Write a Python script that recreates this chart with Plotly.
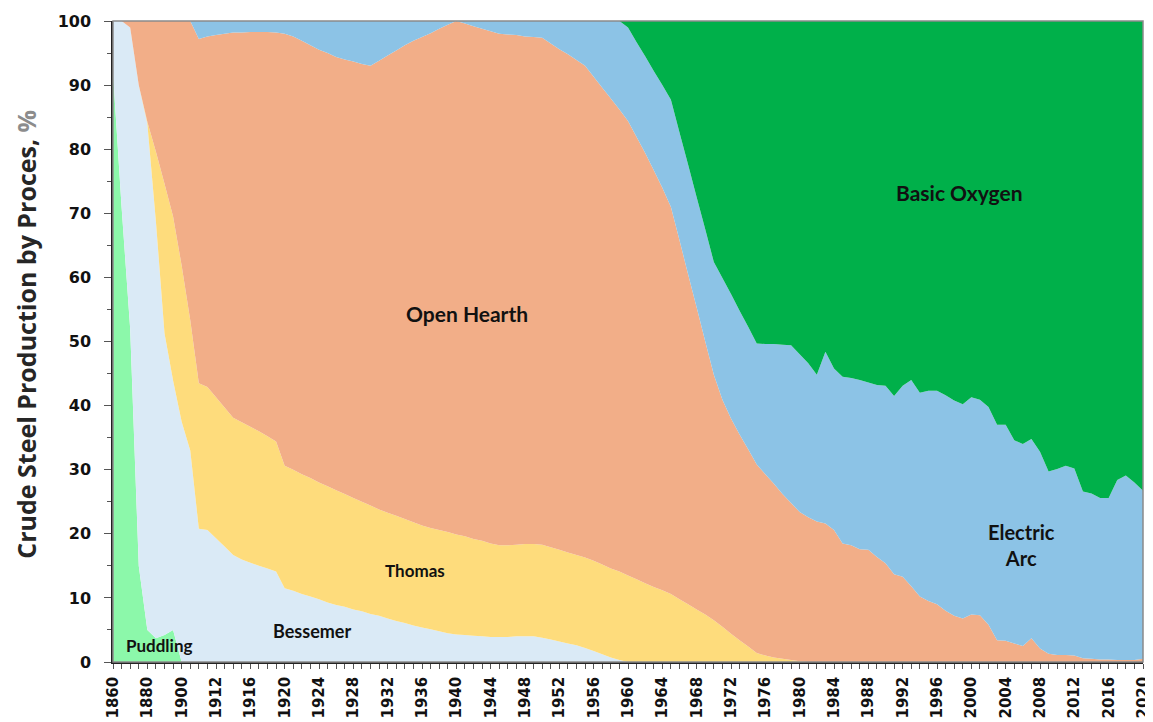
import plotly.graph_objects as go

# === Categories (Excel-style category axis: 5-year steps early, then annual) ===
years = [1860, 1865, 1870, 1875, 1880, 1885, 1890, 1895, 1900, 1905, 1910, 1911] + list(range(1912, 2021))
year_labels = [str(y) for y in years]

# === Shares by process, % ===
puddling = [92, 71, 52, 15, 5, 3.7, 4.2, 5.0, 0, 0, 0, 0] + [0] * 109

bessemer = [8, 29, 47, 75, 79, 65.0, 47.1, 38.9, 37.5, 33.0, 20.8, 20.6,
            19.3, 18.0, 16.7, 16.0, 15.5, 15.0, 14.6, 14.1, 11.5, 11.1,   # 1912-1921
            10.6, 10.2, 9.8, 9.3, 8.9, 8.6, 8.2, 7.9, 7.5, 7.2,           # 1922-1931
            6.8, 6.4, 6.1, 5.7, 5.4, 5.1, 4.8, 4.5, 4.3, 4.2,             # 1932-1941
            4.1, 4.0, 3.9, 3.9, 3.9, 4.0, 4.0, 4.0, 3.8, 3.5,             # 1942-1951
            3.2, 2.9, 2.6, 2.2, 1.7, 1.2, 0.7, 0.3] + [0] * 61            # 1952-1959, 1960-2020

thomas = [0, 0, 0, 0, 0.3, 10.9, 23.3, 25.6, 24.3, 20.3, 22.7, 22.3,
          22.0, 21.7, 21.4, 21.4, 21.2, 21.0, 20.6, 20.3, 19.1, 18.9,     # 1912-1921
          18.7, 18.5, 18.2, 18.1, 17.9, 17.6, 17.4, 17.1, 16.9, 16.6,     # 1922-1931
          16.5, 16.4, 16.2, 16.1, 15.9, 15.8, 15.8, 15.8, 15.6, 15.4,     # 1932-1941
          15.1, 14.9, 14.6, 14.3, 14.3, 14.3, 14.4, 14.4, 14.5, 14.4,     # 1942-1951
          14.3, 14.2, 14.1, 14.1, 14.1, 14.0, 13.9, 13.8, 13.5, 12.9,     # 1952-1961
          12.3, 11.7, 11.2, 10.6, 9.8, 9.0, 8.2, 7.4, 6.5, 5.5,           # 1962-1971
          4.4, 3.4, 2.4, 1.4, 1.0, 0.7, 0.5, 0.3, 0.1] + [0] * 40         # 1972-1980, 1981-2020

open_hearth = [0, 0, 1.0, 10, 15.7, 20.4, 25.4, 30.5, 38.2, 46.7, 53.7, 54.7,
               56.5, 58.3, 60.1, 60.8, 61.6, 62.3, 63.1, 63.8, 67.4, 67.6,   # 1912-1921
               67.6, 67.5, 67.5, 67.6, 67.6, 67.8, 68.1, 68.3, 68.6, 70.0,   # 1922-1931
               71.3, 72.6, 73.9, 75.1, 76.2, 77.2, 78.2, 79.1, 80.1, 80.0,   # 1932-1941
               80.0, 79.9, 79.9, 79.8, 79.7, 79.5, 79.2, 79.1, 79.1, 78.6,   # 1942-1951
               78.1, 77.7, 77.2, 76.7, 75.5, 74.4, 73.3, 72.1, 70.9, 69.0,   # 1952-1961
               67.1, 65.0, 62.8, 60.4, 56.0, 51.5, 47.1, 42.6, 38.3, 35.4,   # 1962-1971
               33.6, 32.1, 30.8, 29.4, 28.3, 27.1, 25.7, 24.5, 23.3, 22.6,   # 1972-1981
               21.9, 21.6, 20.6, 18.5, 18.2, 17.6, 17.5, 16.4, 15.4, 13.7,   # 1982-1991
               13.3, 11.8, 10.2, 9.5, 9.0, 8.0, 7.2, 6.8, 7.4, 7.3,          # 1992-2001
               5.8, 3.4, 3.3, 2.9, 2.5, 3.7, 2.1, 1.3, 1.1, 1.1,             # 2002-2011
               1.0, 0.6, 0.5, 0.4, 0.4, 0.3, 0.3, 0.3, 0.5]                  # 2012-2020

electric_arc = [0, 0, 0, 0, 0, 0, 0, 0, 0, 0, 2.8, 2.4,
                2.2, 2.0, 1.8, 1.8, 1.7, 1.7, 1.7, 1.8, 2.0, 2.4,            # 1912-1921
                3.1, 3.8, 4.5, 5.0, 5.6, 6.0, 6.3, 6.7, 7.0, 6.2,            # 1922-1931
                5.4, 4.6, 3.8, 3.1, 2.5, 1.9, 1.2, 0.6, 0.0, 0.4,            # 1932-1941
                0.8, 1.2, 1.6, 2.0, 2.1, 2.2, 2.4, 2.5, 2.6, 3.5,            # 1942-1951
                4.4, 5.2, 6.1, 7.0, 8.7, 10.4, 12.1, 13.8, 14.6, 14.8,       # 1952-1961
                15.1, 15.5, 16.0, 16.7, 16.8, 17.1, 17.2, 17.5, 17.6, 19.0,  # 1962-1971
                19.4, 19.3, 19.1, 18.9, 20.3, 21.8, 23.3, 24.6, 24.6, 24.0,  # 1972-1981
                22.9, 26.8, 25.2, 26.0, 26.1, 26.4, 26.1, 26.8, 27.7, 27.8,  # 1982-1991
                29.8, 32.2, 31.8, 32.8, 33.3, 33.6, 33.6, 33.4, 33.9, 33.6,  # 1992-2001
                34.0, 33.6, 33.7, 31.7, 31.5, 31.1, 30.7, 28.4, 29.0, 29.5,  # 2002-2011
                29.2, 26.0, 25.8, 25.2, 25.2, 28.1, 28.8, 27.7, 26.2]        # 2012-2020

basic_oxygen = [0] * 60 + [
                1.0, 3.3, 5.5, 7.8, 10.0, 12.3, 17.4, 22.4, 27.5, 32.5,      # 1960-1969
                37.6, 40.1, 42.6, 45.2, 47.7, 50.3, 50.4, 50.4, 50.5, 50.6,  # 1970-1979
                52.0, 53.4, 55.2, 51.6, 54.2, 55.5, 55.7, 56.0, 56.4, 56.8,  # 1980-1989
                56.9, 58.5, 56.9, 56.0, 58.0, 57.7, 57.7, 58.4, 59.2, 59.8,  # 1990-1999
                58.7, 59.1, 60.2, 63.0, 63.0, 65.4, 66.0, 65.2, 67.2, 70.3,  # 2000-2009
                69.9, 69.4, 69.8, 73.4, 73.7, 74.4, 74.4, 71.6, 70.9, 72.0,  # 2010-2019
                73.3]                                                       # 2020

series = [
    ("Puddling", puddling, "#8cf8aa"),
    ("Bessemer", bessemer, "#daeaf6"),
    ("Thomas", thomas, "#fedc7c"),
    ("Open Hearth", open_hearth, "#f2ae88"),
    ("Electric Arc", electric_arc, "#8cc3e6"),
    ("Basic Oxygen", basic_oxygen, "#00b04a"),
]

fig = go.Figure()
for name, vals, col in series:
    fig.add_trace(go.Scatter(
        x=year_labels, y=vals, name=name,
        mode="none", stackgroup="one",
        fill="tonexty", fillcolor=col,
        hovertemplate=name + " %{x}: %{y:.1f}%<extra></extra>",
    ))

# in-chart labels instead of a legend
labels = [
    ("Basic Oxygen", 0.822, 0.733, 21),
    ("Open Hearth", 0.344, 0.543, 21),
    ("Thomas", 0.293, 0.142, 17),
    ("Bessemer", 0.193, 0.048, 18),
    ("Puddling", 0.045, 0.025, 17),
    ("Electric<br>Arc", 0.8825, 0.183, 20),
]
for txt, px_, py_, sz in labels:
    fig.add_annotation(text="<b>" + txt + "</b>", x=px_, y=py_, xref="paper", yref="paper",
                       xanchor="center", yanchor="middle", showarrow=False, align="center",
                       font=dict(family="Lato", size=sz, color="#111111"))

# y-axis title as a rotated annotation so it can sit close to the page edge
fig.add_annotation(text="Crude Steel Production by Proces, <span style='color:#8c8c8c'>%</span>",
                   x=-0.0845, y=0.512, xref="paper", yref="paper", textangle=-90,
                   xanchor="center", yanchor="middle", showarrow=False,
                   font=dict(family="Open Sans", size=25, color="#262626", weight="bold"))

tick_text = [lab if i % 4 == 0 else "" for i, lab in enumerate(year_labels)]

# page body keeps its default 8px margin, so the figure is 8px smaller than the window
fig.update_layout(
    width=1145, height=714,
    paper_bgcolor="white", plot_bgcolor="white",
    margin=dict(l=105, r=10, t=13, b=60),
    showlegend=False,
    font=dict(family="DejaVu Sans", color="#111111"),
    xaxis=dict(
        type="category", range=[0, len(years) - 1], automargin=False,
        tickmode="array", tickvals=year_labels, ticktext=tick_text,
        tickangle=-90, tickfont=dict(family="DejaVu Sans", size=15, weight="bold"),
        ticks="outside", ticklen=5, tickcolor="#555555", ticklabelstandoff=2,
        showline=True, linecolor="#222222", linewidth=1.5,
        showgrid=False, zeroline=False,
    ),
    yaxis=dict(
        range=[0, 100], dtick=10, tick0=0, automargin=False,
        tickfont=dict(family="DejaVu Sans", size=16, weight="bold"),
        ticks="outside", ticklen=7, tickcolor="#555555", ticklabelstandoff=10,
        minor=dict(dtick=5, ticks="outside", ticklen=4, tickcolor="#555555"),
        showline=True, linecolor="#222222", linewidth=1.5,
        showgrid=False, zeroline=False,
    ),
)

# thin grey frame on the top and right of the plot area
fig.add_shape(type="rect", xref="paper", yref="paper", x0=0, y0=0, x1=1, y1=1,
              line=dict(color="#8a8a8a", width=1.5), layer="above")

fig.write_html("out.html")
